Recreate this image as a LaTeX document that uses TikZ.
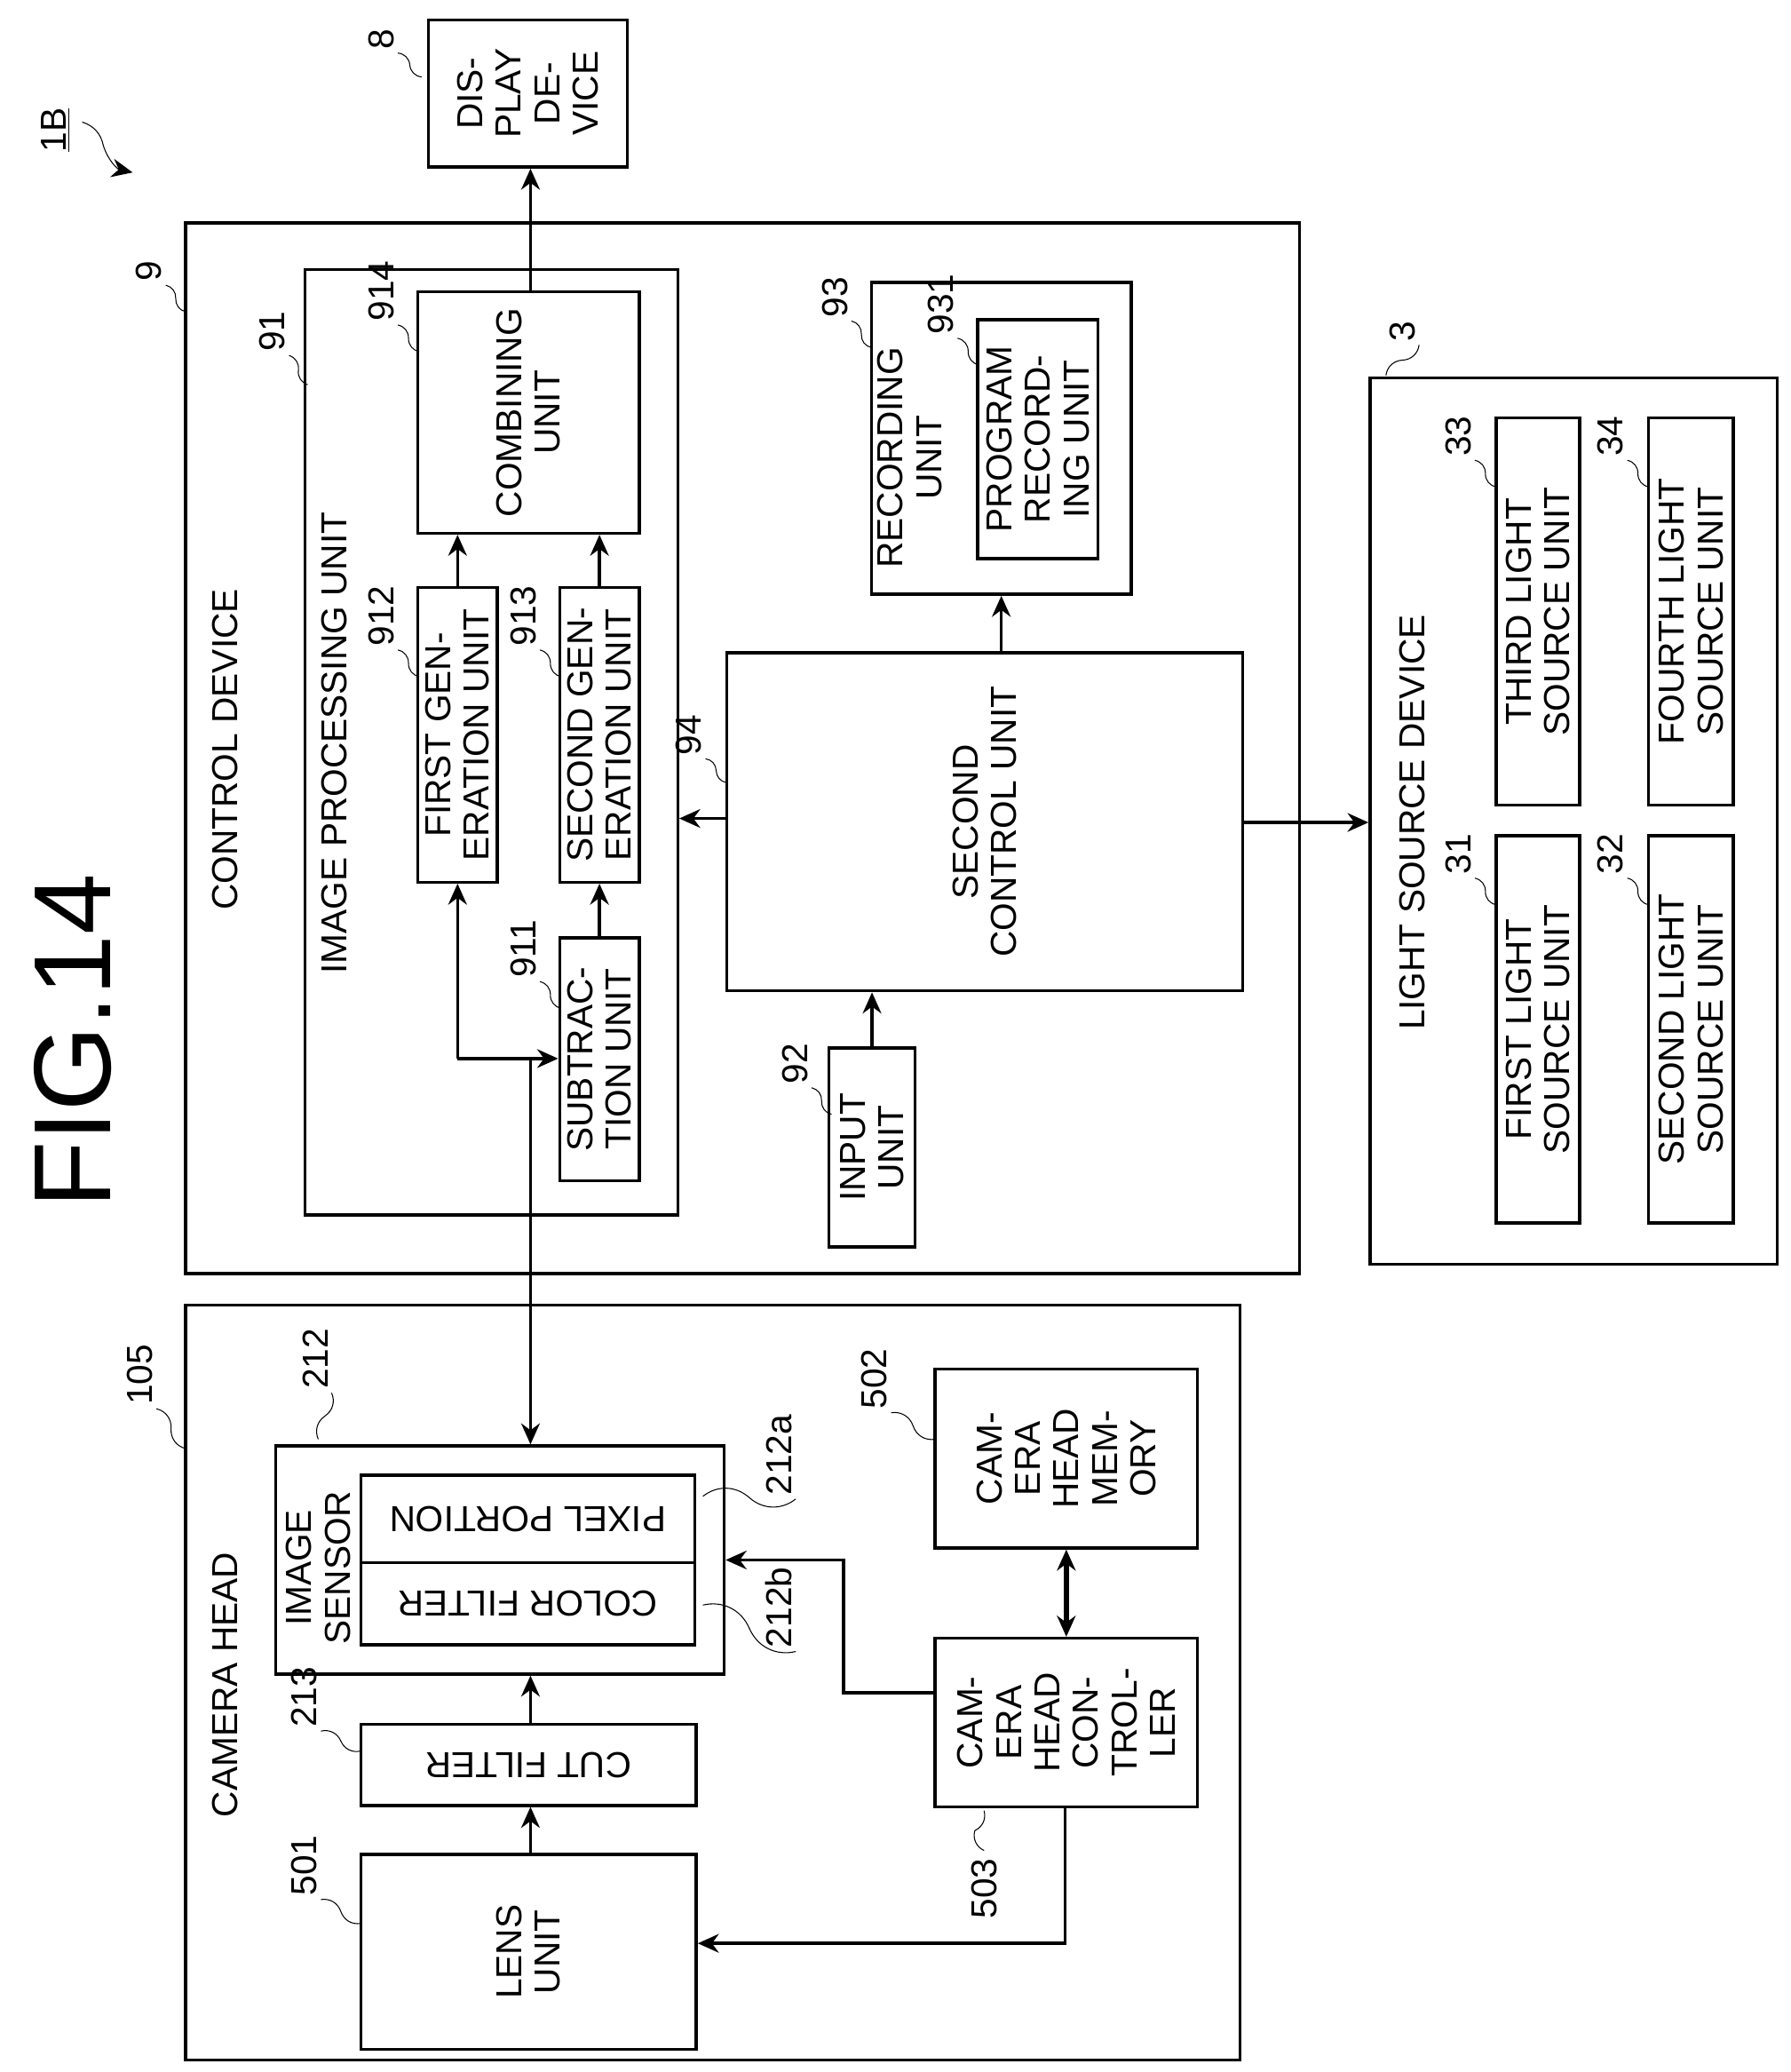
\documentclass[tikz,border=0pt]{standalone}
\usepackage{fontspec}
\setmainfont{Liberation Sans}
\usetikzlibrary{arrows.meta,positioning,fit,calc}
\newcommand{\blk}[6]{%
  \node[box,fit={(#2,#3)(#4,#5)}] (#1) {};
  \node[txt] at (#1) {#6};}
\newcommand{\lead}[3]{%
  \draw[thin] (#1) to[bend left=40] ($(#1)!0.5!(#2)$) to[bend right=40] (#2);
  \node[num,anchor=south west,inner sep=1pt] at (#2) {#3};}
\begin{document}
\begin{tikzpicture}[x=0.02cm,y=-0.02cm,
    line width=1.3pt,
    >={Stealth[length=9pt,width=8pt]},
    font=\fontsize{15.5}{16.5}\selectfont,
    box/.style={draw,inner sep=0pt,line width=1.3pt},
    txt/.style={rotate=90,align=center,inner sep=0pt},
    num/.style={rotate=90}
  ]
  \useasboundingbox (0,0) rectangle (1350,1562);
  % title
  \node[rotate=90,font=\fontsize{47}{50}\selectfont] (fig) at (55,785) {FIG.14};
  \node[num] (ref) at (42,98) {\underline{1B}};
  \draw[thin,->] (62,92) to[bend left=30] (78,110) to[bend right=30] (100,130);

  % display device
  \blk{disp}{323}{15}{473}{126}{DIS-\\PLAY\\DE-\\VICE}
  % control device
  \node[box,fit={(140,168)(980,960)}] (ctrl) {};
  \node[txt] at (170,565) {CONTROL DEVICE};
  \node[box,fit={(230,203)(511,916)}] (ipu) {};
  \node[txt] at (252,560) {IMAGE PROCESSING UNIT};
  \blk{comb}{315}{220}{482}{402}{COMBINING\\UNIT}
  \blk{gen1}{315}{443}{375}{665}{FIRST GEN-\\ERATION UNIT}
  \blk{gen2}{422}{443}{482}{665}{SECOND GEN-\\ERATION UNIT}
  \blk{sub}{422}{707}{482}{890}{SUBTRAC-\\TION UNIT}
  \blk{inp}{625}{790}{690}{940}{INPUT\\UNIT}
  \blk{ctl2}{548}{492}{937}{747}{SECOND\\CONTROL UNIT}
  \node[box,fit={(657,213)(853,448)}] (rec) {};
  \node[txt] at (686,345) {RECORDING\\UNIT};
  \blk{prog}{737}{241}{828}{421}{PROGRAM\\RECORD-\\ING UNIT}
  % light source device
  \node[box,fit={(1033,285)(1340,953)}] (light) {};
  \node[txt] at (1065,620) {LIGHT SOURCE DEVICE};
  \blk{ls3}{1128}{315}{1191}{607}{THIRD LIGHT\\SOURCE UNIT}
  \blk{ls4}{1243}{315}{1307}{607}{FOURTH LIGHT\\SOURCE UNIT}
  \blk{ls1}{1128}{630}{1191}{922}{FIRST LIGHT\\SOURCE UNIT}
  \blk{ls2}{1243}{630}{1307}{922}{SECOND LIGHT\\SOURCE UNIT}
  % camera head
  \node[box,fit={(140,984)(935,1553)}] (cam) {};
  \node[txt] at (170,1270) {CAMERA HEAD};
  \node[box,fit={(208,1090)(546,1262)}] (sens) {};
  \node[txt] at (240,1182) {IMAGE\\SENSOR};
  \node[box,fit={(272,1112)(524,1178)}] (pix) {};
  \node[rotate=180] at (pix) {PIXEL PORTION};
  \node[box,fit={(272,1178)(524,1240)}] (cf) {};
  \node[rotate=180] at (cf) {COLOR FILTER};
  \node[box,fit={(272,1300)(525,1361)}] (cut) {};
  \node[rotate=180] at (cut) {CUT FILTER};
  \blk{lens}{272}{1398}{525}{1545}{LENS\\UNIT}
  \blk{mem}{705}{1032}{903}{1167}{CAM-\\ERA\\HEAD\\MEM-\\ORY}
  \blk{chc}{705}{1235}{903}{1362}{CAM-\\ERA\\HEAD\\CON-\\TROL-\\LER}

  % connectors
  \coordinate (jn) at (400,798);
  \coordinate (jl) at (345,798);
  \coordinate (x400) at (400,0);
  \coordinate (x755) at (755,0);
  \coordinate (x803) at (803,0);
  \coordinate (y617) at (0,617);
  \coordinate (y620) at (0,620);
  \coordinate (y1176) at (0,1176);
  \coordinate (y1276) at (0,1276);
  \coordinate (y1465) at (0,1465);
  \coordinate (bend) at (636,1176);
  \draw[->] (comb.north -| x400) -- (disp.south -| x400);
  \draw[->] (gen1.north) -- (gen1.north |- comb.south);
  \draw[->] (gen2.north) -- (gen2.north |- comb.south);
  \draw[->] (sub.north) -- (gen2.south);
  \draw[->] (jl) -- (sub.west |- jl);
  \draw[->] (jl) -- (gen1.south);
  \draw[->] (jn) -- (jn |- sens.north);
  \draw[->] (inp.north) -- (inp.north |- ctl2.south);
  \draw[->] (ctl2.north -| x755) -- (rec.south -| x755);
  \draw[->] (ctl2.west |- y617) -- (ipu.east |- y617);
  \draw[->] (ctl2.east |- y620) -- (light.west |- y620);
  \draw[<->,line width=2.4pt] (chc.north) -- (mem.south);
  \draw[->] (chc.west |- y1276) -| (bend) -- (sens.east |- y1176);
  \draw[->] (chc.south -| x803) |- (lens.east |- y1465);
  \draw[->] (cut.north -| x400) -- (sens.south -| x400);
  \draw[->] (lens.north -| x400) -- (cut.south -| x400);

  % reference numerals
  \lead{318,58}{300,40}{8}
  \lead{140,235}{125,215}{9}
  \lead{232,290}{218,268}{91}
  \lead{316,265}{300,245}{914}
  \lead{316,510}{300,490}{912}
  \lead{423,510}{407,490}{913}
  \lead{423,760}{407,740}{911}
  \lead{627,840}{612,820}{92}
  \lead{548,590}{532,572}{94}
  \lead{657,262}{642,242}{93}
  \lead{738,275}{722,255}{931}
  \lead{1045,283}{1070,260}{3}
  \lead{1128,367}{1112,347}{33}
  \lead{1243,367}{1227,347}{34}
  \lead{1128,682}{1112,662}{31}
  \lead{1243,682}{1227,662}{32}
  \lead{140,1092}{118,1062}{105}
  \lead{240,1085}{250,1050}{212}
  \lead{530,1128}{600,1130}{212a}
  \lead{530,1210}{600,1245}{212b}
  \lead{272,1320}{242,1305}{213}
  \lead{272,1450}{242,1432}{501}
  \lead{705,1085}{672,1065}{502}
  \draw[thin] (742,1365) to[bend left=40] (735,1380) to[bend right=40] (742,1395);
  \node[num,anchor=east,inner sep=1pt] (n503) at (742,1398) {503};
\end{tikzpicture}
\end{document}
